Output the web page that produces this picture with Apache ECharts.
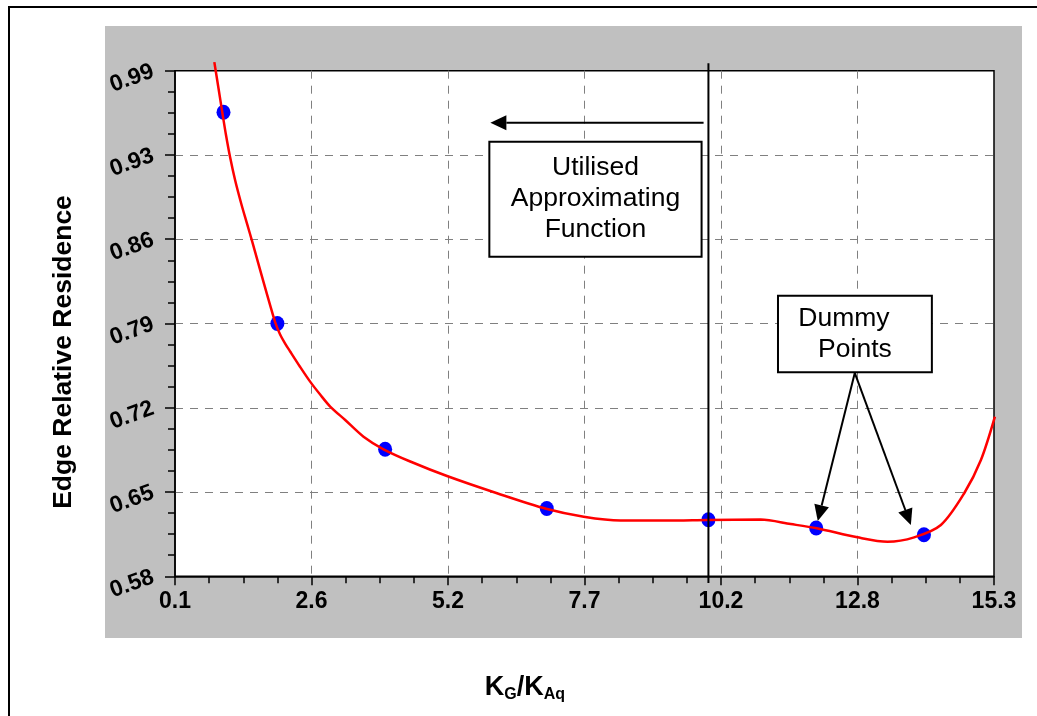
<!DOCTYPE html>
<html>
<head>
<meta charset="utf-8">
<script src="https://cdn.jsdelivr.net/npm/echarts@6/dist/echarts.min.js"></script>
<style>
html,body{margin:0;padding:0;background:#fff;}
#chart{width:1037px;height:716px;}
</style>
</head>
<body>
<div id="chart"></div>
<script>
// ---- data ----
const xTickLabels = ['0.1', '2.6', '5.2', '7.7', '10.2', '12.8', '15.3'];
const yTickLabels = ['0.58', '0.65', '0.72', '0.79', '0.86', '0.93', '0.99'];
const xMin = 0.1, xMax = 15.3;
const yMin = 0.58, yMax = 0.994;

const pointX = [1.0, 2.0, 4.0, 7.0, 10.0, 12.0, 14.0];
const pointY = [0.960, 0.787, 0.684, 0.6355, 0.6263, 0.6195, 0.614];

const curveX = [0.830, 0.905, 0.979, 1.048, 1.122, 1.215, 1.326, 1.438, 1.536, 1.642, 1.754, 1.865, 1.958, 2.051, 2.144, 2.237, 2.423, 2.608, 2.794, 2.980, 3.259, 3.599, 3.970, 4.466, 5.148, 6.077, 6.988, 7.686, 8.368, 9.204, 9.979, 10.969, 11.527, 12.010, 12.766, 13.324, 13.818, 14.314, 14.747, 15.057, 15.317];
const curveY = [1.001, 0.9802, 0.9596, 0.9409, 0.9233, 0.9045, 0.8857, 0.8685, 0.8537, 0.8369, 0.8193, 0.8021, 0.7882, 0.778, 0.7706, 0.7641, 0.7514, 0.7394, 0.7288, 0.719, 0.708, 0.6943, 0.684, 0.674, 0.6621, 0.648, 0.6353, 0.6288, 0.6257, 0.6257, 0.6261, 0.6265, 0.6228, 0.6193, 0.6119, 0.6083, 0.6119, 0.622, 0.648, 0.6752, 0.7107];

const cutoffX = [10.0, 10.0];
const cutoffY = [1.0, 0.5745];

const boxApprox = { text: ['Utilised', 'Approximating', 'Function'], x: [5.934, 9.873], y: [0.9359, 0.8417] };
const boxDummy = { text: ['Dummy', 'Points'], x: [11.291, 14.147], y: [0.8098, 0.747] };
const arrows = [
  { from: [9.91, 0.9514], to: [5.953, 0.9514] },
  { from: [12.716, 0.7465], to: [12.029, 0.6253] },
  { from: [12.716, 0.7465], to: [13.757, 0.622] }
];

const FONT = 'Liberation Sans, Arial, sans-serif';

const chart = echarts.init(document.getElementById('chart'), null, { renderer: 'canvas' });

const option = {
  backgroundColor: '#fff',
  animation: false,
  grid: {
    left: 175, top: 70.7, right: 43, bottom: 139.7,
    show: true, backgroundColor: '#fff', borderColor: '#000', borderWidth: 1.5
  },
  xAxis: [
    { type: 'value', min: xMin, max: xMax, show: false, position: 'top' },
    {
      type: 'value', min: 0, max: 6, interval: 1, position: 'bottom',
      axisLine: { show: true, lineStyle: { color: '#000', width: 1.5 } },
      axisTick: { show: true, length: 9, lineStyle: { color: '#000', width: 1.5 } },
      minorTick: { show: true, splitNumber: 4, length: 7, lineStyle: { color: '#000', width: 1.5 } },
      axisLabel: {
        formatter: v => xTickLabels[Math.round(v)],
        fontSize: 23, fontWeight: 'bold', color: '#000', fontFamily: FONT, margin: 14
      },
      splitLine: { show: true, showMinLine: false, showMaxLine: false, lineStyle: { color: '#808080', type: [8, 7], width: 1 } }
    }
  ],
  yAxis: [
    { type: 'value', min: yMin, max: yMax, show: false, position: 'right' },
    {
      type: 'value', min: 0, max: 6, interval: 1, position: 'left',
      axisLine: { show: true, lineStyle: { color: '#000', width: 1.5 } },
      axisTick: { show: true, length: 10, lineStyle: { color: '#000', width: 1.5 } },
      minorTick: { show: true, splitNumber: 4, length: 7, lineStyle: { color: '#000', width: 1.5 } },
      axisLabel: {
        formatter: v => yTickLabels[Math.round(v)],
        fontSize: 23, fontWeight: 'bold', color: '#000', fontFamily: FONT, margin: 22, rotate: 20
      },
      splitLine: { show: true, showMinLine: false, showMaxLine: false, lineStyle: { color: '#808080', type: [8, 7], width: 1 } }
    }
  ],
  graphic: [
    { type: 'rect', z: -10, shape: { x: 105, y: 26, width: 917, height: 612 }, style: { fill: '#C0C0C0' } },
    { type: 'rect', z: -10, shape: { x: 9, y: 7, width: 1100, height: 800 }, style: { fill: 'none', stroke: '#000', lineWidth: 2 } },
    {
      type: 'text', x: 64, y: 352, rotation: Math.PI / 2,
      style: { text: 'Edge Relative Residence', font: 'bold 26.5px ' + FONT, fill: '#000', textAlign: 'center', textVerticalAlign: 'middle', align: 'center', verticalAlign: 'middle' }
    },
    {
      type: 'text', x: 525, y: 688,
      style: {
        text: '{k|K}{s|G}{k|/K}{s|Aq}', textAlign: 'center', textVerticalAlign: 'middle', align: 'center', verticalAlign: 'middle',
        rich: {
          k: { fontSize: 27, fontWeight: 'bold', fontFamily: FONT, lineHeight: 30, verticalAlign: 'middle', fill: '#000', color: '#000' },
          s: { fontSize: 16, fontWeight: 'bold', fontFamily: FONT, lineHeight: 16, verticalAlign: 'bottom', fill: '#000', color: '#000' }
        }
      }
    }
  ],
  series: [
    {
      type: 'scatter', xAxisIndex: 0, yAxisIndex: 0, z: 2,
      symbol: 'circle', symbolSize: [14, 15],
      itemStyle: { color: '#0000FF', opacity: 1 },
      data: pointX.map((x, i) => [x, pointY[i]])
    },
    {
      type: 'line', xAxisIndex: 0, yAxisIndex: 0, z: 3, clip: false,
      smooth: 0.3, showSymbol: false, symbol: 'none',
      lineStyle: { color: '#FF0000', width: 2.5 },
      data: curveX.map((x, i) => [x, curveY[i]])
    },
    {
      type: 'line', xAxisIndex: 0, yAxisIndex: 0, z: 4, clip: false,
      showSymbol: false, symbol: 'none',
      lineStyle: { color: '#000', width: 2 },
      data: cutoffX.map((x, i) => [x, cutoffY[i]])
    }
  ]
};

chart.setOption(option);

// ---- annotations positioned through the chart's own scales ----
function px(p) { return chart.convertToPixel({ xAxisIndex: 0, yAxisIndex: 0 }, p); }
const extra = [];
function addBox(b, offsets) {
  const a = px([b.x[0], b.y[0]]), c = px([b.x[1], b.y[1]]);
  const l = Math.min(a[0], c[0]), t = Math.min(a[1], c[1]);
  const w = Math.abs(c[0] - a[0]), h = Math.abs(c[1] - a[1]);
  extra.push({ type: 'rect', z: 20, shape: { x: l, y: t, width: w, height: h }, style: { fill: '#fff', stroke: '#000', lineWidth: 2 } });
  const n = b.text.length, lh = 31;
  b.text.forEach((s, i) => {
    const cy = t + h / 2 + (i - (n - 1) / 2) * lh;
    const cx = l + w / 2 + (offsets ? offsets[i] : 0);
    extra.push({ type: 'text', z: 21, x: cx, y: cy, style: { text: s, font: '26.5px ' + FONT, fill: '#000', textAlign: 'center', textVerticalAlign: 'middle', align: 'center', verticalAlign: 'middle' } });
  });
}
addBox(boxApprox);
addBox(boxDummy, [-11, 0]);
arrows.forEach(ar => {
  const p0 = px(ar.from), p1 = px(ar.to);
  const dx = p1[0] - p0[0], dy = p1[1] - p0[1];
  const len = Math.sqrt(dx * dx + dy * dy), ux = dx / len, uy = dy / len;
  const hl = 16, hw = 7.5;
  const bx = p1[0] - ux * hl, by = p1[1] - uy * hl;
  extra.push({ type: 'line', z: 20, shape: { x1: p0[0], y1: p0[1], x2: bx, y2: by }, style: { stroke: '#000', lineWidth: 2 } });
  extra.push({ type: 'polygon', z: 20, shape: { points: [[p1[0], p1[1]], [bx - uy * hw, by + ux * hw], [bx + uy * hw, by - ux * hw]] }, style: { fill: '#000' } });
});
chart.setOption({ graphic: option.graphic.concat(extra) });
</script>
</body>
</html>
